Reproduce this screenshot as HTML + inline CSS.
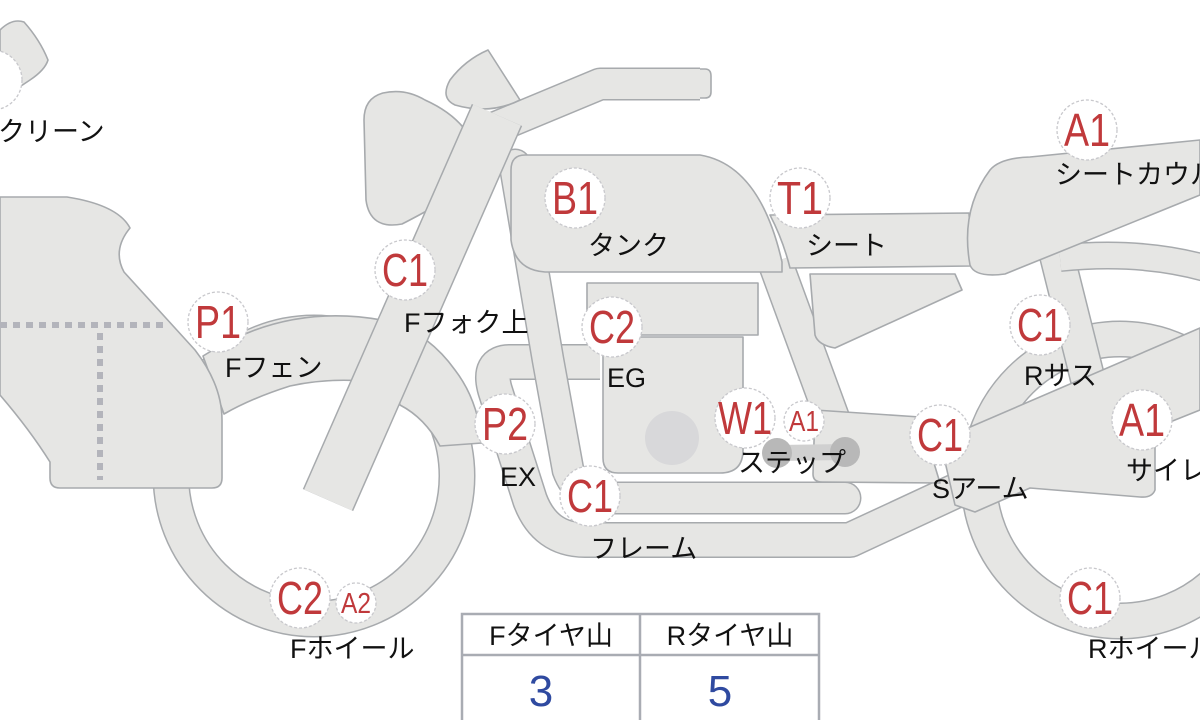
<!DOCTYPE html>
<html><head><meta charset="utf-8"><style>
html,body{margin:0;padding:0;background:#fff;}
svg{display:block;}
.s{fill:#e6e6e4;stroke:#a7aaad;stroke-width:1.6;stroke-linejoin:round;}
.o{fill:none;stroke:#a7aaad;}
.f{fill:none;stroke:#e6e6e4;}
.lb{font-family:"Liberation Sans","Noto Sans CJK JP",sans-serif;font-size:27px;fill:#111;}
.bd circle{fill:#fff;stroke:#c8c8cc;stroke-width:1.3;stroke-dasharray:3 2;}
.bd text{font-family:"Liberation Sans",sans-serif;fill:#c0393b;text-anchor:middle;}
</style></head><body>
<svg width="1200" height="720" viewBox="0 0 1200 720" xmlns="http://www.w3.org/2000/svg">
<circle cx="314" cy="476" r="143" class="o" stroke-width="37"/>
<circle cx="314" cy="476" r="143" class="f" stroke-width="34"/>
<circle cx="1120" cy="480" r="141" class="o" stroke-width="37"/>
<circle cx="1120" cy="480" r="141" class="f" stroke-width="34"/>
<path class="s" d="M203,356 Q290,300 392,322 Q430,335 455,370 Q478,400 482,443 L440,446 Q425,418 400,405 L395,385 Q340,375 290,386 Q252,398 224,414 Z"/>
<path class="s" d="M0,197 L67,197 Q118,205 130,228 Q112,250 124,272 L195,350 Q222,385 222,420 L222,478 Q222,488 212,488 L60,488 Q50,488 50,478 L50,462 Q30,430 0,395 Z"/>
<path d="M0,325 L165,325 M100,333 L100,480" stroke="#b3b4bb" stroke-width="6" stroke-dasharray="7 6" fill="none"/>
<path class="s" d="M0,30 Q12,18 24,22 Q40,40 48,60 Q45,70 30,80 L0,100 Z"/>
<path class="o" stroke-width="36" stroke-linejoin="round" d="M600,362 L510,362 Q487,362 495,390 L530,500 Q545,540 585,540 L850,540 L962,488"/>
<path class="f" stroke-width="33" stroke-linejoin="round" d="M600,362 L510,362 Q487,362 495,390 L530,500 Q545,540 585,540 L850,540 L962,488"/>
<path class="o" stroke-width="33" stroke-linecap="round" d="M515,165 L548,360 L568,470 Q578,498 610,498 L845,498"/>
<path class="f" stroke-width="30" stroke-linecap="round" d="M515,165 L548,360 L568,470 Q578,498 610,498 L845,498"/>
<path class="o" stroke-width="36" d="M775,262 L852,472"/>
<path class="f" stroke-width="33" d="M775,262 L852,472"/>
<path class="o" stroke-width="36" d="M1053,240 L1090,388"/>
<path class="f" stroke-width="33" d="M1053,240 L1090,388"/>
<path class="o" stroke-width="28" d="M1060,258 Q1140,250 1205,268"/>
<path class="f" stroke-width="25" d="M1060,258 Q1140,250 1205,268"/>
<path class="s" d="M815,410 L920,417 L940,483 L822,482 Q813,482 813,474 Z"/>
<path class="s" d="M940,440 L1200,328 L1200,410 L1155,428 L1155,490 Q1152,498 1140,497 L1030,488 L975,512 L955,505 Z"/>
<path class="o" stroke-width="33" stroke-linejoin="round" d="M470,138 L600,84 L700,84"/>
<path class="f" stroke-width="30" stroke-linejoin="round" d="M470,138 L600,84 L700,84"/>
<path d="M700,69 L705,69 Q711,69 711,76 L711,92 Q711,98 705,98 L700,98" fill="#e6e6e4" stroke="#a7aaad" stroke-width="1.6"/>
<path class="s" d="M488,50 Q465,60 450,80 Q440,98 455,105 Q490,115 520,100 Z"/>
<path class="s" d="M383,93 Q405,88 425,100 Q465,118 476,150 Q482,180 455,195 Q420,215 402,224 Q370,230 366,200 L364,120 Q364,98 383,93 Z"/>
<path class="o" stroke-width="55" d="M497,115 L328,500"/>
<path class="f" stroke-width="52" d="M497,115 L328,500"/>
<rect class="s" x="587" y="283" width="171" height="52"/>
<path class="s" d="M603,337 L743,337 L743,450 Q743,473 720,473 L618,473 Q603,473 603,458 Z"/>
<circle cx="672" cy="438" r="27" fill="#d8d8da"/>
<path d="M777,453 L845,452" stroke="#d0d0d0" stroke-width="16"/>
<circle cx="777" cy="453" r="15" fill="#b8b8b8"/>
<circle cx="845" cy="452" r="15" fill="#b8b8b8"/>
<path class="s" d="M525,155 L700,155 Q760,165 782,262 L782,272 L545,272 Q515,270 511,240 L511,170 Q511,155 525,155 Z"/>
<path class="s" d="M810,274 L955,274 L962,290 L835,348 Q818,345 815,335 Z"/>
<path class="s" d="M770,215 L969,213 L972,266 L790,268 Q783,240 770,215 Z"/>
<path class="s" d="M970,265 Q960,210 990,170 Q1000,158 1030,157 L1200,140 L1200,195 L1005,274 Q975,278 970,265 Z"/>
<rect x="462" y="614" width="357" height="110" fill="#fff" stroke="#a9acb3" stroke-width="2.5"/>
<line x1="462" y1="655" x2="819" y2="655" stroke="#a9acb3" stroke-width="2.5"/>
<line x1="640" y1="614" x2="640" y2="720" stroke="#a9acb3" stroke-width="2.5"/>
<text class="lb" x="551" y="645" text-anchor="middle">Fタイヤ山</text>
<text class="lb" x="730" y="645" text-anchor="middle">Rタイヤ山</text>
<text x="541" y="706" text-anchor="middle" font-family="Liberation Sans,sans-serif" font-size="44" fill="#2f4aa0">3</text>
<text x="720" y="706" text-anchor="middle" font-family="Liberation Sans,sans-serif" font-size="44" fill="#2f4aa0">5</text>
<g class="bd">
<circle cx="-8" cy="80" r="30"/>
<circle cx="218" cy="322" r="30"/><text x="218" y="338" font-size="46" textLength="46" lengthAdjust="spacingAndGlyphs">P1</text>
<circle cx="405" cy="270" r="30"/><text x="405" y="286" font-size="46" textLength="46" lengthAdjust="spacingAndGlyphs">C1</text>
<circle cx="575" cy="198" r="30"/><text x="575" y="214" font-size="46" textLength="46" lengthAdjust="spacingAndGlyphs">B1</text>
<circle cx="800" cy="198" r="30"/><text x="800" y="214" font-size="46" textLength="46" lengthAdjust="spacingAndGlyphs">T1</text>
<circle cx="1087" cy="130" r="30"/><text x="1087" y="146" font-size="46" textLength="46" lengthAdjust="spacingAndGlyphs">A1</text>
<circle cx="612" cy="327" r="30"/><text x="612" y="343" font-size="46" textLength="46" lengthAdjust="spacingAndGlyphs">C2</text>
<circle cx="1040" cy="325" r="30"/><text x="1040" y="341" font-size="46" textLength="46" lengthAdjust="spacingAndGlyphs">C1</text>
<circle cx="505" cy="424" r="30"/><text x="505" y="440" font-size="46" textLength="46" lengthAdjust="spacingAndGlyphs">P2</text>
<circle cx="745" cy="418" r="30"/><text x="745" y="434" font-size="46" textLength="54" lengthAdjust="spacingAndGlyphs">W1</text>
<circle cx="804" cy="421" r="20"/><text x="804" y="431" font-size="29" textLength="30" lengthAdjust="spacingAndGlyphs">A1</text>
<circle cx="940" cy="435" r="30"/><text x="940" y="451" font-size="46" textLength="46" lengthAdjust="spacingAndGlyphs">C1</text>
<circle cx="1142" cy="420" r="30"/><text x="1142" y="436" font-size="46" textLength="46" lengthAdjust="spacingAndGlyphs">A1</text>
<circle cx="590" cy="496" r="30"/><text x="590" y="512" font-size="46" textLength="46" lengthAdjust="spacingAndGlyphs">C1</text>
<circle cx="300" cy="598" r="30"/><text x="300" y="614" font-size="46" textLength="46" lengthAdjust="spacingAndGlyphs">C2</text>
<circle cx="356" cy="603" r="20"/><text x="356" y="613" font-size="29" textLength="30" lengthAdjust="spacingAndGlyphs">A2</text>
<circle cx="1090" cy="598" r="30"/><text x="1090" y="614" font-size="46" textLength="46" lengthAdjust="spacingAndGlyphs">C1</text>
</g>
<text class="lb" x="-2" y="141">クリーン</text>
<text class="lb" x="225" y="377">Fフェン</text>
<text class="lb" x="404" y="332">Fフォク上</text>
<text class="lb" x="588" y="255">タンク</text>
<text class="lb" x="806" y="255">シート</text>
<text class="lb" x="1055" y="184">シートカウル</text>
<text class="lb" x="607" y="387">EG</text>
<text class="lb" x="1024" y="385">Rサス</text>
<text class="lb" x="500" y="486">EX</text>
<text class="lb" x="738" y="472">ステップ</text>
<text class="lb" x="932" y="498">Sアーム</text>
<text class="lb" x="1126" y="480">サイレンサー</text>
<text class="lb" x="590" y="558">フレーム</text>
<text class="lb" x="290" y="658">Fホイール</text>
<text class="lb" x="1088" y="658">Rホイール</text>
</svg>
</body></html>
